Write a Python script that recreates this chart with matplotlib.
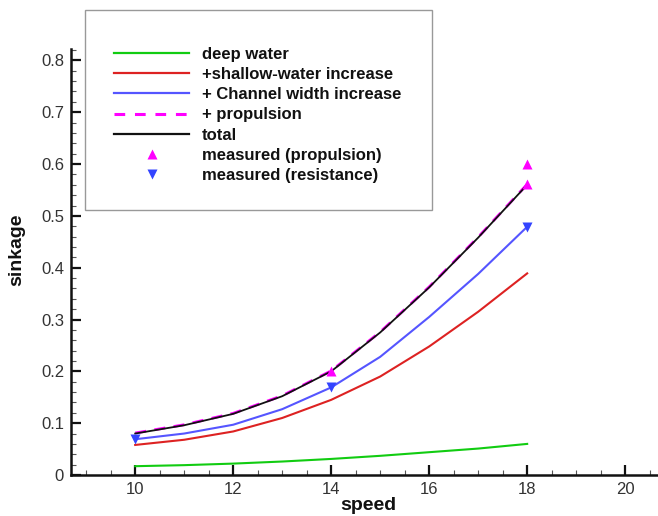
import matplotlib
matplotlib.use("Agg")
import matplotlib.pyplot as plt
from matplotlib.patches import Rectangle
from matplotlib.lines import Line2D
from matplotlib.ticker import MultipleLocator

plt.rcParams['font.family'] = ['Liberation Sans', 'DejaVu Sans']

speed = [10, 11, 12, 13, 14, 15, 16, 17, 18]
deep_water = [0.017, 0.019, 0.022, 0.026, 0.031, 0.037, 0.044, 0.051, 0.060]
shallow_inc = [0.058, 0.068, 0.084, 0.110, 0.145, 0.190, 0.248, 0.315, 0.389]
width_inc = [0.069, 0.080, 0.097, 0.127, 0.169, 0.228, 0.305, 0.388, 0.479]
propulsion = [0.081, 0.097, 0.119, 0.153, 0.201, 0.276, 0.363, 0.459, 0.561]
total = [0.080, 0.096, 0.118, 0.152, 0.200, 0.275, 0.362, 0.458, 0.560]

meas_prop_x = [14, 18, 18]
meas_prop_y = [0.200, 0.600, 0.561]
meas_res_x = [10, 14, 18]
meas_res_y = [0.069, 0.169, 0.479]

labels = ["deep water", "+shallow-water increase", "+ Channel width increase",
          "+ propulsion", "total", "measured (propulsion)", "measured (resistance)"]

W, H = 658, 516
fig = plt.figure(figsize=(W / 100, H / 100), dpi=100)
ax = fig.add_axes([71 / W, 41 / H, 1 - 71 / W, (475 - 49) / H])

c_green = '#11cc11'
c_red = '#dd2222'
c_blue = '#5555ff'
c_mag = '#ff00ff'
c_tri_blue = '#3344ff'

ax.plot(speed, deep_water, color=c_green, lw=1.5)
ax.plot(speed, shallow_inc, color=c_red, lw=1.5)
ax.plot(speed, width_inc, color=c_blue, lw=1.5)
ax.plot(speed, propulsion, color=c_mag, lw=2.0, ls=(0, (4, 3)))
ax.plot(speed, total, color='#111111', lw=1.3)
ax.plot(meas_prop_x, meas_prop_y, ls='none', marker='^', color=c_mag, ms=7.5, mec='none')
ax.plot(meas_res_x, meas_res_y, ls='none', marker='v', color=c_tri_blue, ms=7.5, mec='none')

ax.set_xlim(8.69, 20.67)
ax.set_ylim(0, 0.822)
ax.xaxis.set_minor_locator(MultipleLocator(0.5))
ax.yaxis.set_minor_locator(MultipleLocator(0.02))
ax.set_xticks([10, 12, 14, 16, 18, 20])
ax.set_xticklabels(['10', '12', '14', '16', '18', '20'])
ax.set_yticks([0, 0.1, 0.2, 0.3, 0.4, 0.5, 0.6, 0.7, 0.8])
ax.set_yticklabels(['0', '0.1', '0.2', '0.3', '0.4', '0.5', '0.6', '0.7', '0.8'])
ax.tick_params(which='major', direction='in', length=7, width=1.6, labelsize=12,
               labelcolor='#333333', color='#111111', pad=5)
ax.tick_params(which='minor', direction='in', length=3.5, width=0.8, color='#555555')
for s in ['top', 'right']:
    ax.spines[s].set_visible(False)
for s in ['left', 'bottom']:
    ax.spines[s].set_linewidth(1.8)
    ax.spines[s].set_color('#111111')
ax.patch.set_alpha(0)

fig.text(368 / W, 1 - 506 / H, 'speed', ha='center', va='center', fontsize=14,
         fontweight='bold', color='#111111')
fig.text(17 / W, 1 - 250 / H, 'sinkage', ha='center', va='center', fontsize=14,
         fontweight='bold', color='#111111', rotation=90)

# legend box
fig.patches.append(Rectangle((85 / W, 1 - 210 / H), (432 - 85) / W, (210 - 10) / H,
                             transform=fig.transFigure, facecolor='white',
                             edgecolor='#999999', lw=1.0, zorder=5))
handles = [
    Line2D([], [], color=c_green, lw=1.6),
    Line2D([], [], color=c_red, lw=1.6),
    Line2D([], [], color=c_blue, lw=1.6),
    Line2D([], [], color=c_mag, lw=2.2, ls=(0, (3.5, 3.2))),
    Line2D([], [], color='#111111', lw=1.6),
    Line2D([], [], ls='none', marker='^', color=c_mag, ms=7.5, mec='none'),
    Line2D([], [], ls='none', marker='v', color=c_tri_blue, ms=7.5, mec='none'),
]
leg = fig.legend(handles, labels, loc='upper left', bbox_to_anchor=(114 / W, 1 - 47 / H),
                 frameon=False, prop={'weight': 'bold', 'size': 12},
                 handlelength=4.5, handletextpad=0.78, labelspacing=0.31,
                 borderpad=0, borderaxespad=0)
leg.set_zorder(6)
for t in leg.get_texts():
    t.set_color('#111111')

fig.savefig('out.png', dpi=100)
